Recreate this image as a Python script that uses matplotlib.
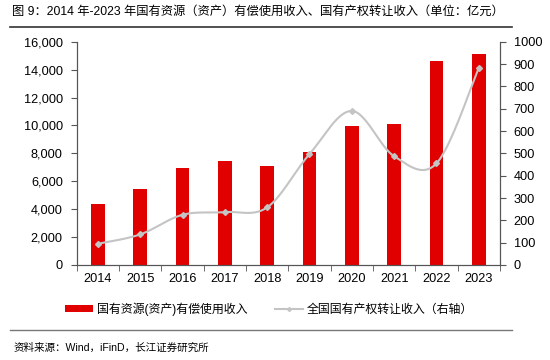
import matplotlib
matplotlib.use("Agg")
import matplotlib.pyplot as plt
import numpy as np
from matplotlib.lines import Line2D
from matplotlib.patches import Patch

plt.rcParams['font.family'] = ['Liberation Sans', 'Noto Sans CJK SC', 'DejaVu Sans']

years = ['2014', '2015', '2016', '2017', '2018', '2019', '2020', '2021', '2022', '2023']
usage_income = [4370, 5480, 6930, 7480, 7100, 8070, 9960, 10100, 14630, 15120]
transfer_income = [95, 137, 225, 237, 258, 497, 690, 487, 455, 882]

left_ticks = [0, 2000, 4000, 6000, 8000, 10000, 12000, 14000, 16000]
right_ticks = [0, 100, 200, 300, 400, 500, 600, 700, 800, 900, 1000]

title = '图 9：2014 年-2023 年国有资源（资产）有偿使用收入、国有产权转让收入（单位：亿元）'
bar_label = '国有资源(资产)有偿使用收入'
line_label = '全国国有产权转让收入（右轴）'
source = '资料来源：Wind，iFinD，长江证券研究所'

RED = '#E00000'
GRAY = '#C4C4C4'
AX = '#555555'

fig = plt.figure(figsize=(5.5, 3.6), dpi=100)
ax = fig.add_axes([0.1395, 0.2639, 0.7695, 0.6201])
ax2 = ax.twinx()

x = np.arange(len(years))
ax.bar(x, usage_income, width=0.32, color=RED, zorder=2)
ax.set_xlim(-0.5, len(years) - 0.5)
ax.set_ylim(0, 16000)
ax.set_yticks(left_ticks)
ax.set_yticklabels([f'{v:,}' for v in left_ticks])
ax.set_xticks(x)
ax.set_xticklabels(years)
ax.set_xticks(np.arange(-0.5, len(years)), minor=True)
ax.tick_params(axis='x', which='major', length=0, pad=6, labelsize=9.2, colors='black')
ax.tick_params(axis='x', which='minor', length=4, direction='out', color=AX)
ax.tick_params(axis='y', length=4, direction='out', color=AX, labelsize=9.2, pad=6)

# smoothed line (Catmull-Rom in screen-like scale)
sx, sy = 42.3, 0.2233
px = x * sx
py = np.array(transfer_income, dtype=float) * sy
P = np.column_stack([px, py])
curve = []
n = len(P)
for i in range(n - 1):
    p0 = P[i - 1] if i > 0 else P[i]
    p1 = P[i]
    p2 = P[i + 1]
    p3 = P[i + 2] if i + 2 < n else P[i + 1]
    c1 = p1 + (p2 - p0) / 6.0
    c2 = p2 - (p3 - p1) / 6.0
    t = np.linspace(0, 1, 30)[:, None]
    seg = (1 - t) ** 3 * p1 + 3 * (1 - t) ** 2 * t * c1 + 3 * (1 - t) * t ** 2 * c2 + t ** 3 * p2
    curve.append(seg if i == 0 else seg[1:])
curve = np.vstack(curve)
ax2.plot(curve[:, 0] / sx, curve[:, 1] / sy, color=GRAY, lw=1.5, zorder=3)
ax2.plot(x, transfer_income, linestyle='none', marker='D', ms=3, color=GRAY, zorder=4)
ax2.set_ylim(0, 1000)
ax2.set_yticks(right_ticks)
ax2.tick_params(axis='y', length=4, direction='out', color=AX, labelsize=9.2, pad=6)

for a in (ax, ax2):
    a.spines['top'].set_visible(False)
    for s in ('left', 'right', 'bottom'):
        a.spines[s].set_color(AX)
        a.spines[s].set_linewidth(0.8)

handles = [Patch(facecolor=RED, edgecolor='none'),
           Line2D([0], [0], color=GRAY, lw=1.5, marker='D', ms=2)]
leg = fig.legend(handles, [bar_label, line_label], loc='center', bbox_to_anchor=(0.489, 0.142),
                 ncol=2, frameon=False, fontsize=8.6, handlelength=2.35, handleheight=0.5,
                 columnspacing=2.3, handletextpad=0.35)

fig.text(0.022, 0.967, title, fontsize=8.85, va='center', ha='left')
fig.add_artist(Line2D([0.018, 0.931], [0.925, 0.925], color='#333333', lw=1.2, transform=fig.transFigure))
fig.add_artist(Line2D([0.018, 0.931], [0.083, 0.083], color='#777777', lw=1.0, transform=fig.transFigure))
fig.text(0.024, 0.033, source, fontsize=7.6, va='center', ha='left')

fig.savefig('out.png', dpi=100)
